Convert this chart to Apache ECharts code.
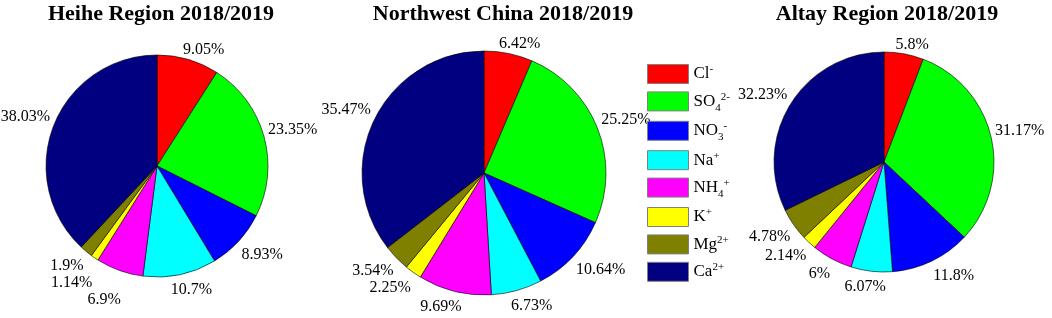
<!DOCTYPE html>
<html>
<head>
<meta charset="utf-8">
<script src="https://cdn.jsdelivr.net/npm/echarts@6/dist/echarts.min.js"></script>
<style>
  html, body { margin: 0; padding: 0; background: #fff; }
  #chart { width: 1052px; height: 318px; }
</style>
</head>
<body>
<div id="chart"></div>
<script>
// ion order, same in all three pies
const ions = ['Cl-', 'SO4 2-', 'NO3-', 'Na+', 'NH4+', 'K+', 'Mg2+', 'Ca2+']
// rich text for the legend (sub / superscripts)
const ionLabels = [
  '{n|Cl}{sup|-}',
  '{n|SO}{sub|4}{sup|2-}',
  '{n|NO}{sub|3}{sup|-}',
  '{n|Na}{sup|+}',
  '{n|NH}{sub|4}{sup|+}',
  '{n|K}{sup|+}',
  '{n|Mg}{sup|2+}',
  '{n|Ca}{sup|2+}'
]
const heihe = [9.05, 23.35, 8.93, 10.7, 6.9, 1.14, 1.9, 38.03]
const northwest = [6.42, 25.25, 10.64, 6.73, 9.69, 2.25, 3.54, 35.47]
const altay = [5.8, 31.17, 11.8, 6.07, 6, 2.14, 4.78, 32.23]
const titles = ['Heihe Region 2018/2019', 'Northwest China 2018/2019', 'Altay Region 2018/2019']

const colors = ['#ff0000', '#00ff00', '#0000ff', '#00ffff', '#ff00ff', '#ffff00', '#808000', '#000080']
const font = 'Liberation Serif, Times New Roman, serif'
const labelSize = 16

const measure = document.createElement('canvas').getContext('2d')
measure.font = labelSize + 'px ' + font

// label spots around the pie (offsets from the centre), small ones pushed apart
function labelSpots(values, r) {
  const total = values.reduce((a, b) => a + b, 0)
  const clamp = v => Math.max(-1, Math.min(1, v))
  const h = 17
  let before = 0
  const spots = values.map(v => {
    const a = (before + v / 2) / total * 2 * Math.PI
    before += v
    const s = Math.sin(a)
    const c = Math.cos(a)
    const w = measure.measureText(v + '%').width
    return {
      w: w,
      x: (r + 2) * s + clamp(2.5 * s) * w / 2 + 2 * s,
      y: -(r + 1) * c - clamp(3 * c) * h / 2 + (c < 0 ? -6 * c : 0)
    }
  })
  const hits = (p, q) => Math.abs(p.x - q.x) < (p.w + q.w) / 2 + 2 && Math.abs(p.y - q.y) < h
  // lower half: push down, upper half: push up
  const lower = spots.filter(p => p.y > 0).sort((p, q) => p.y - q.y)
  lower.forEach((p, i) => {
    for (let j = 0; j < i; j++) if (hits(p, lower[j])) p.y = lower[j].y + h
  })
  const upper = spots.filter(p => p.y <= 0).sort((p, q) => q.y - p.y)
  upper.forEach((p, i) => {
    for (let j = 0; j < i; j++) if (hits(p, upper[j])) p.y = upper[j].y - h
  })
  return spots
}

function pieSeries(values, center, radius) {
  const spots = labelSpots(values, radius)
  return {
    type: 'pie',
    center: center,
    radius: radius,
    startAngle: 90,
    clockwise: true,
    avoidLabelOverlap: false,
    data: ions.map((name, i) => ({ name: name, value: values[i] })),
    itemStyle: { borderColor: '#000', borderWidth: 0.6 },
    label: {
      show: true,
      position: 'outside',
      formatter: '{c}%',
      fontFamily: font,
      fontSize: labelSize,
      color: '#000'
    },
    labelLine: { show: false },
    labelLayout: params => ({
      x: center[0] + spots[params.dataIndex].x,
      y: center[1] + spots[params.dataIndex].y,
      align: 'center',
      verticalAlign: 'middle'
    }),
    emphasis: { disabled: true }
  }
}

const chart = echarts.init(document.getElementById('chart'))
chart.setOption({
  animation: false,
  color: colors,
  title: titles.map((t, i) => ({
    text: t,
    left: [161, 503, 887][i],
    top: 3,
    padding: 0,
    textAlign: 'center',
    textStyle: { fontFamily: font, fontWeight: 'bold', fontSize: 22, color: '#000' }
  })),
  legend: {
    orient: 'vertical',
    left: 642,
    top: 57,
    itemWidth: 41,
    itemHeight: 19,
    itemGap: 5.4,
    icon: 'rect',
    selectedMode: false,
    data: ions,
    itemStyle: { borderColor: '#808080', borderWidth: 1 },
    formatter: name => ionLabels[ions.indexOf(name)],
    textStyle: {
      color: '#000',
      fontFamily: font,
      rich: {
        n: { fontSize: 17, lineHeight: 24, fontFamily: font, color: '#000' },
        sup: { fontSize: 11, lineHeight: 11, verticalAlign: 'top', padding: [2, 0, 0, 0], fontFamily: font, color: '#000' },
        sub: { fontSize: 11, lineHeight: 11, verticalAlign: 'bottom', fontFamily: font, color: '#000' }
      }
    }
  },
  series: [
    pieSeries(heihe, [157, 166], 111),
    pieSeries(northwest, [484, 173], 122),
    pieSeries(altay, [884, 162], 110)
  ]
})
</script>
</body>
</html>
